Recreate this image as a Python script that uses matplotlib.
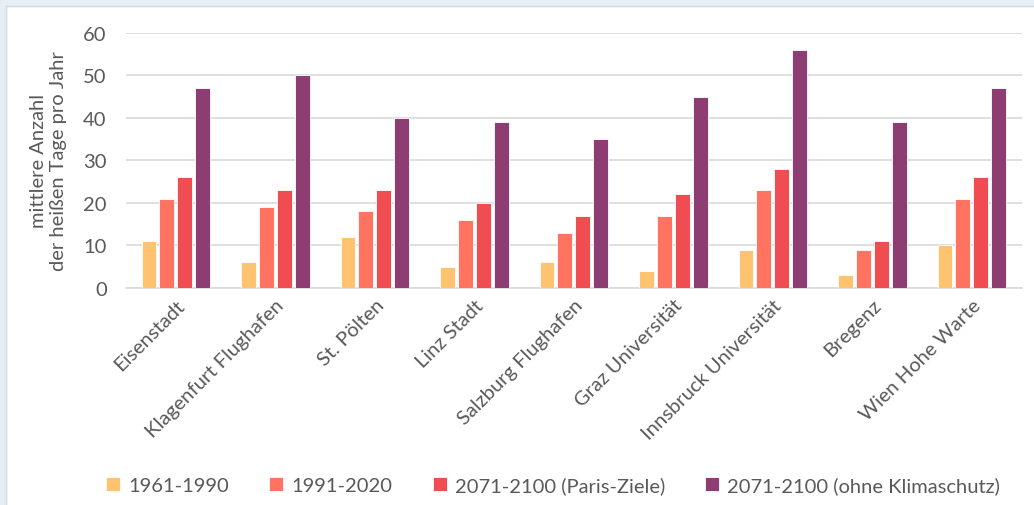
# plot.py - heiße Tage pro Jahr, Stationen in Österreich

import matplotlib.pyplot as plt
import numpy as np
from matplotlib.patches import Rectangle
from matplotlib.lines import Line2D

# Daten

stationen = ['Eisenstadt', 'Klagenfurt Flughafen', 'St. Pölten', 'Linz Stadt',
             'Salzburg Flughafen', 'Graz Universität', 'Innsbruck Universität',
             'Bregenz', 'Wien Hohe Warte']
tage_1961_1990 = [11, 6, 12, 5, 6, 4, 9, 3, 10]
tage_1991_2020 = [21, 19, 18, 16, 13, 17, 23, 9, 21]
tage_paris = [26, 23, 23, 20, 17, 22, 28, 11, 26]
tage_ohne = [47, 50, 40, 39, 35, 45, 56, 39, 47]

serien = ['1961-1990', '1991-2020', '2071-2100 (Paris-Ziele)', '2071-2100 (ohne Klimaschutz)']
farben = ['#FFC26E', '#FF7360', '#EF4D52', '#8E3D72']

grau = '#595959'
plt.rcParams['font.family'] = ['Lato', 'DejaVu Sans']
fs = 14.5

fig = plt.figure(figsize=(10.34, 5.06), dpi=100)

# hellblauer Rahmen oben und links (Screenshot)
fig.patches.append(Rectangle((0, 1 - 7/506), 1, 7/506, transform=fig.transFigure,
                             color='#E6EEF5', zorder=0))
fig.patches.append(Rectangle((0, 0), 6/1034, 1, transform=fig.transFigure,
                             color='#E6EEF5', zorder=0))
fig.add_artist(Line2D([6/1034, 1], [1 - 7/506, 1 - 7/506], transform=fig.transFigure,
                      color='#D3DAE1', lw=1))
fig.add_artist(Line2D([6/1034, 6/1034], [0, 1 - 7/506], transform=fig.transFigure,
                      color='#D3DAE1', lw=1))

ax = fig.add_axes([0.122, 0.429, 0.866, 0.504])

x = np.arange(len(stationen))
werte = [tage_1961_1990, tage_1991_2020, tage_paris, tage_ohne]
abstand = 0.18
breite = 0.15
for i, (w, f, s) in enumerate(zip(werte, farben, serien)):
    ax.bar(x + (i - 1.5) * abstand, w, breite, color=f, label=s,
           edgecolor='white', linewidth=0.6, zorder=3)

ax.set_xlim(-0.5, len(stationen) - 0.5)
ax.set_ylim(0, 60)
ax.set_yticks(range(0, 61, 10))
ax.grid(axis='y', color='#D9D9D9', linewidth=1.2, zorder=0)
for sp in ['top', 'right', 'left']:
    ax.spines[sp].set_visible(False)
ax.spines['bottom'].set_color('#D9D9D9')
ax.spines['bottom'].set_linewidth(1.2)

ax.set_xticks(x)
ax.set_xticklabels(stationen, rotation=45, ha='right', va='top',
                   rotation_mode='anchor', fontsize=fs, color=grau)
ax.tick_params(axis='both', length=0, labelsize=fs, colors=grau)
ax.tick_params(axis='y', pad=14)
ax.tick_params(axis='x', pad=6)

ax.set_ylabel('mittlere Anzahl\nder heißen Tage pro Jahr', fontsize=fs, color=grau,
              labelpad=12, linespacing=1.15)

fig.legend(loc='center', bbox_to_anchor=(0.535, 0.04), ncol=4, frameon=False,
           fontsize=fs, labelcolor=grau, handlelength=0.7, handleheight=0.7,
           handletextpad=0.4, columnspacing=2.0)

plt.savefig('out.png', dpi=100)
